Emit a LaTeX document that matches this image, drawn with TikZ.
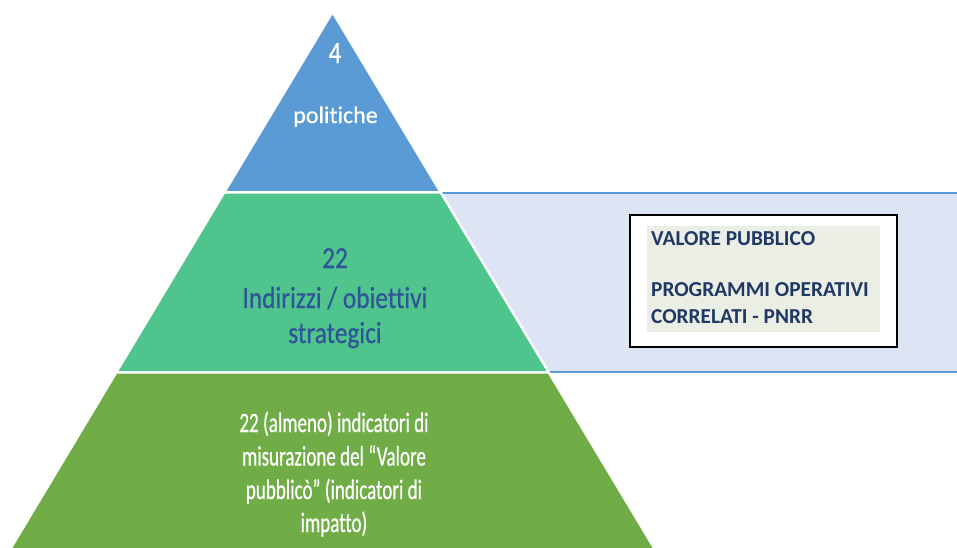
\documentclass[tikz,border=0pt]{standalone}
\usepackage{fontspec}
\setmainfont[Ligatures=NoCommon]{Carlito}
\newfontfamily\fourfont[Ligatures=NoCommon,FakeStretch=0.8,FakeBold=0.6]{Carlito}
\newfontfamily\polfont[Ligatures=NoCommon,FakeBold=0.5]{Carlito}
\newfontfamily\midfont[Ligatures=NoCommon,FakeStretch=0.83,FakeBold=0.6]{Carlito}
\newfontfamily\botfont[Ligatures=NoCommon,FakeStretch=0.68,FakeBold=0.6]{Carlito}
\definecolor{tierblue}{RGB}{91,155,213}
\definecolor{tiergreen}{RGB}{79,196,141}
\definecolor{tierolive}{RGB}{112,173,71}
\definecolor{bandfill}{RGB}{221,228,243}
\definecolor{bandline}{RGB}{91,155,213}
\definecolor{innerfill}{RGB}{235,238,229}
\definecolor{midtext}{RGB}{47,85,151}
\definecolor{boxtext}{RGB}{31,56,100}
\begin{document}
\begin{tikzpicture}[x=1pt,y=-1pt,
  tier/.style={draw=white,line width=2.4pt,line join=round},
  band/.style={draw=bandline,line width=2pt},
  whitetxt/.style={text=white,inner sep=0pt,anchor=base},
  midtxt/.style={text=midtext,inner sep=0pt,anchor=base,font=\midfont\fontsize{30.5}{36}\selectfont},
  bottxt/.style={text=white,inner sep=0pt,anchor=base,font=\botfont\fontsize{28}{34}\selectfont},
  boxtxt/.style={text=boxtext,inner sep=0pt,anchor=base west,font=\bfseries\fontsize{21.3}{25.6}\selectfont}]
\useasboundingbox (0,0) rectangle (957,547);
\clip (0,0) rectangle (957,547);
% band behind the middle tier
\fill[bandfill] (420,192.3) rectangle (957,372.4);
\coordinate (bt1) at (420,192.6);
\coordinate (bt2) at (957,192.6);
\coordinate (bb1) at (420,372.4);
\coordinate (bb2) at (957,372.4);
\draw[band] (bt1) -- (bt2);
\draw[band] (bb1) -- (bb2);
% pyramid tiers
\coordinate (apex) at (332.5,12);
\coordinate (l1) at (224.3,192.3);
\coordinate (r1) at (440.7,192.3);
\coordinate (l2) at (116.2,372.5);
\coordinate (r2) at (548.8,372.5);
\coordinate (l3) at (3.7,560);
\coordinate (r3) at (661.3,560);
\filldraw[tier,fill=tierblue] (apex) -- (r1) -- (l1) -- cycle;
\filldraw[tier,fill=tiergreen] (l1) -- (r1) -- (r2) -- (l2) -- cycle;
\filldraw[tier,fill=tierolive] (l2) -- (r2) -- (r3) -- (l3) -- cycle;
% texts of the tiers
\node[whitetxt,font=\fourfont\fontsize{31}{37}\selectfont] (t4) at (335,63) {4};
\node[whitetxt,font=\polfont\fontsize{24}{29}\selectfont] (tpol) at (335.5,123) {politiche};
\node[midtxt] (m1) at (335,268) {22};
\node[midtxt] (m2) at (335,308) {Indirizzi / obiettivi};
\node[midtxt] (m3) at (335,343) {strategici};
\node[bottxt] (b1) at (334,432) {22 (almeno) indicatori di};
\node[bottxt] (b2) at (334,465.5) {misurazione del “Valore};
\node[bottxt] (b3) at (334,499) {pubblicò” (indicatori di};
\node[bottxt] (b4) at (334,532) {impatto)};
% side box
\node[draw=black,line width=1.5pt,fill=white,minimum width=267pt,minimum height=132pt,inner sep=0pt] (box) at (763.5,281) {};
\node[fill=innerfill,minimum width=233pt,minimum height=106pt,inner sep=0pt] (inner) at (763.5,279) {};
\node[boxtxt] (v1) at (651,245.7) {VALORE PUBBLICO};
\node[boxtxt] (v2) at (651,296.7) {PROGRAMMI OPERATIVI};
\node[boxtxt] (v3) at (651,323.5) {CORRELATI - PNRR};
\end{tikzpicture}
\end{document}
